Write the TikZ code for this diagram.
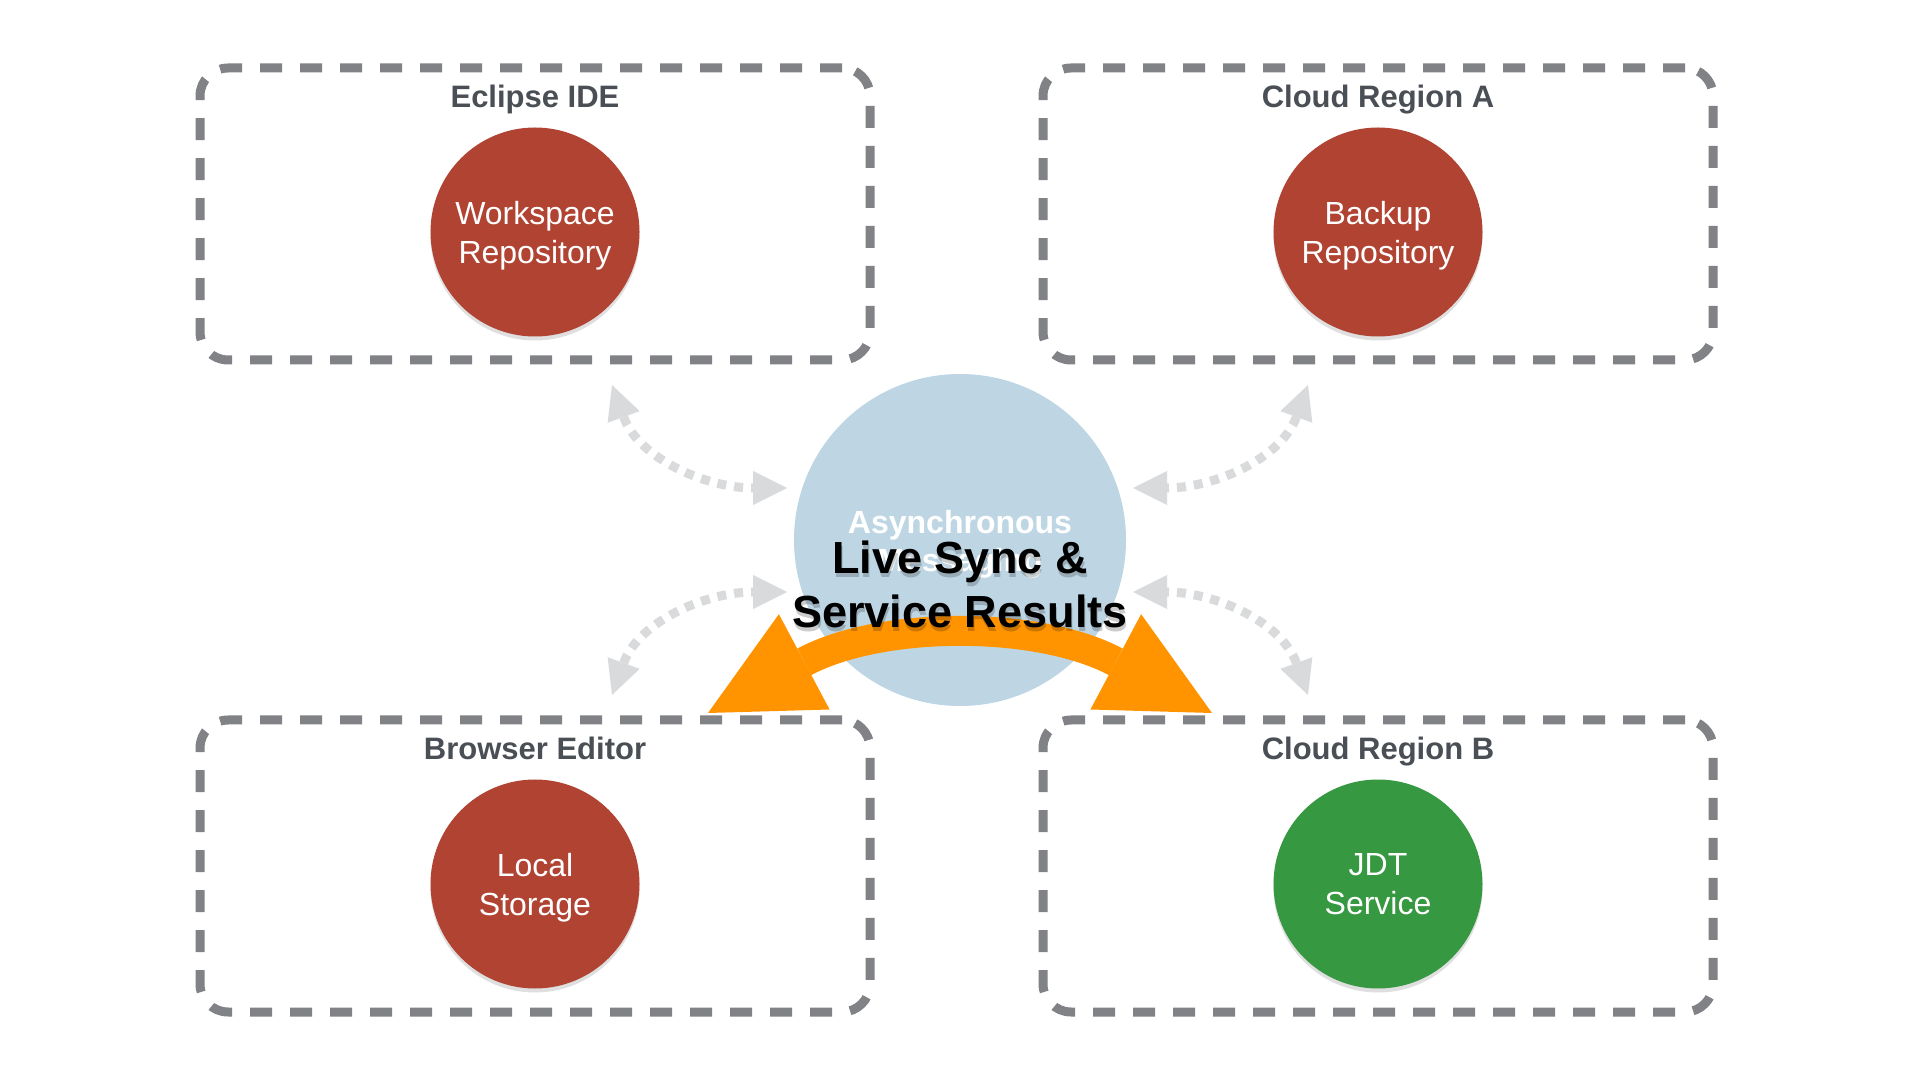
\documentclass[tikz,border=0pt]{standalone}
\usepackage{fontspec}
\setmainfont{Liberation Sans}
\usetikzlibrary{arrows.meta,shadows}
\definecolor{boxgray}{RGB}{128,130,134}
\definecolor{titlegray}{RGB}{74,79,85}
\definecolor{brick}{RGB}{176,67,50}
\definecolor{leaf}{RGB}{54,152,64}
\definecolor{mist}{RGB}{190,214,228}
\definecolor{haze}{RGB}{217,218,220}
\definecolor{amber}{RGB}{255,148,0}
\tikzset{
  region/.style={draw=boxgray, line width=9pt, dash pattern=on 22pt off 18pt,
    rounded corners=28pt, minimum width=670pt, minimum height=292pt},
  regionname/.style={anchor=base, text=titlegray, font=\bfseries\fontsize{31}{36}\selectfont},
  store/.style={circle, minimum size=209pt, text=white, align=center, text depth=0pt,
    font=\fontsize{32}{39}\selectfont,
    drop shadow={shadow xshift=0pt, shadow yshift=-4pt, opacity=.25}},
  hub/.style={circle, fill=mist, minimum size=332pt},
  synctip/.tip={Triangle[length=34pt, width=34pt, line width=0pt]},
  bandtip/.tip={Triangle[length=109pt, width=108pt, line width=0pt]},
  sync/.style={draw=haze, line width=9pt, dash pattern=on 9pt off 8pt, synctip-synctip},
  band/.style={draw=amber, line width=30pt, bandtip-bandtip},
  headline/.style={align=center, font=\bfseries\fontsize{45}{54}\selectfont}
}
\begin{document}
\begin{tikzpicture}[x=1pt, y=1pt]
\fill[white] (0,0) rectangle (1920,1080);
\useasboundingbox (0,0) rectangle (1920,1080);
\node[region] (ide) at (535,866) {};
\node[region] (cloudA) at (1378,866) {};
\node[region] (browser) at (535,214) {};
\node[region] (cloudB) at (1378,214) {};
\node[regionname] (idename) at ([yshift=-44pt]ide.north) {Eclipse IDE};
\node[regionname] (cloudAname) at ([yshift=-44pt]cloudA.north) {Cloud Region A};
\node[regionname] (browsername) at ([yshift=-44pt]browser.north) {Browser Editor};
\node[regionname] (cloudBname) at ([yshift=-44pt]cloudB.north) {Cloud Region B};
\node[store, fill=brick] (workspace) at ([yshift=-18pt]ide.center) {Workspace\\Repository};
\node[store, fill=brick] (backup) at ([yshift=-18pt]cloudA.center) {Backup\\Repository};
\node[store, fill=brick] (local) at ([yshift=-18pt]browser.center) {Local\\Storage};
\node[store, fill=leaf] (jdt) at ([yshift=-18pt]cloudB.center) {JDT\\Service};
\node[hub] (hub) at (960,540) {};
\coordinate (ideend) at (612,695);
\coordinate (cloudAend) at (1308,695);
\coordinate (browserend) at (612,385);
\coordinate (cloudBend) at (1308,385);
\coordinate (hubnw) at (787,592);
\coordinate (hubne) at (1133,592);
\coordinate (hubsw) at (787,488);
\coordinate (hubse) at (1133,488);
\draw[sync] (ideend) to[out=-70, in=180] (hubnw);
\draw[sync] (cloudAend) to[out=-110, in=0] (hubne);
\draw[sync] (browserend) to[out=70, in=180] (hubsw);
\draw[sync] (cloudBend) to[out=110, in=0] (hubse);
\node[text=white, align=center, font=\bfseries\fontsize{32}{38}\selectfont] (async) at (960,536) {Asynchronous\\Messaging};
\coordinate (bandleft) at (708,367);
\coordinate (bandright) at (1212,367);
\draw[band] (bandleft) .. controls +(28:197) and +(152:197) .. (bandright);
\node[headline, text=black, opacity=.2] (liveshadow) at (961,492) {Live Sync \&\\Service Results};
\node[headline, text=black] (live) at (960,496) {Live Sync \&\\Service Results};
\end{tikzpicture}
\end{document}
